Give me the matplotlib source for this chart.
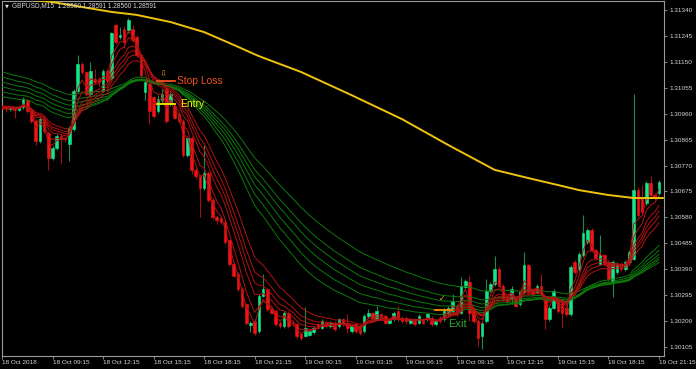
"""
plot.py

MetaTrader-style GBPUSD M15 chart: candles, GMMA ribbons (short EMAs in red,
long EMAs in green), a slow yellow average and the trade annotations.

Writes: out.png
"""

import matplotlib
matplotlib.use("Agg")
import matplotlib.pyplot as plt

# prices stored in points above 1.30000 (1 point = 0.00001)
BASE = 1.30000
PT = 1e-5

OPEN = [
    982, 978, 976, 980, 974, 983, 1010, 970, 933, 860,
    940, 890, 798, 835, 878, 870, 850, 905, 1044, 1143,
    1112, 1032, 1087, 1087, 1044, 1118, 1090, 1285, 1241, 1272,
    1266, 1272, 1241, 1174, 1040, 1069, 1020, 970, 1010, 1050,
    995, 989, 958, 933, 810, 872, 755, 730, 687, 742,
    644, 582, 576, 564, 496, 410, 373, 317, 262, 186,
    200, 163, 293, 317, 244, 237, 194, 182, 231, 190,
    188, 151, 145, 150, 160, 188, 176, 194, 182, 194,
    182, 206, 194, 164, 188, 182, 164, 219, 229, 207,
    225, 219, 194, 207, 237, 213, 213, 194, 206, 194,
    206, 206, 213, 188, 213, 207, 225, 237, 256, 231,
    324, 342, 243, 200, 145, 200, 311, 336, 392, 330,
    286, 286, 280, 262, 305, 404, 317, 305, 330, 280,
    207, 249, 274, 268, 249, 225, 416, 391, 441, 490,
    533, 459, 410, 441, 416, 342, 379, 410, 391, 416,
    428, 681, 650, 631, 705, 662, 668,
]
CLOSE = [
    978, 976, 980, 974, 983, 1013, 970, 933, 860, 940,
    897, 798, 835, 878, 870, 866, 909, 1044, 1143, 1112,
    1032, 1118, 1075, 1075, 1118, 1081, 1254, 1223, 1250, 1223,
    1303, 1229, 1174, 1100, 1075, 970, 952, 1013, 1032, 933,
    1032, 946, 933, 810, 872, 755, 730, 687, 742, 644,
    582, 570, 564, 490, 410, 367, 317, 256, 194, 194,
    157, 293, 317, 244, 231, 188, 182, 231, 182, 188,
    145, 139, 175, 162, 176, 176, 200, 182, 194, 170,
    206, 188, 176, 182, 164, 157, 219, 231, 207, 237,
    213, 194, 206, 231, 207, 200, 200, 206, 188, 219,
    194, 225, 188, 200, 200, 243, 249, 274, 225, 330,
    348, 231, 200, 139, 194, 311, 336, 392, 330, 280,
    274, 317, 256, 305, 404, 305, 299, 330, 299, 207,
    249, 311, 237, 231, 225, 397, 379, 447, 521, 533,
    459, 430, 441, 410, 354, 416, 410, 391, 416, 453,
    681, 588, 600, 705, 662, 650, 711,
]
HIGH = [
    986, 984, 986, 984, 990, 1020, 1015, 975, 940, 948,
    946, 897, 842, 885, 884, 876, 915, 1050, 1174, 1150,
    1118, 1149, 1125, 1094, 1125, 1124, 1260, 1291, 1278, 1280,
    1310, 1285, 1248, 1180, 1082, 1075, 1026, 1030, 1050, 1063,
    1040, 995, 964, 940, 880, 880, 762, 738, 847, 750,
    652, 590, 582, 570, 502, 418, 380, 325, 268, 200,
    206, 300, 373, 322, 250, 243, 200, 238, 237, 196,
    194, 157, 250, 168, 182, 194, 206, 200, 200, 200,
    212, 212, 225, 188, 194, 188, 225, 245, 235, 256,
    231, 225, 212, 237, 256, 219, 219, 212, 212, 225,
    212, 231, 219, 206, 219, 249, 256, 299, 262, 360,
    354, 365, 249, 206, 200, 354, 342, 440, 398, 336,
    292, 330, 286, 311, 453, 410, 323, 336, 373, 286,
    256, 318, 280, 274, 256, 404, 422, 453, 588, 540,
    540, 465, 514, 447, 422, 422, 416, 416, 422, 460,
    1032, 690, 700, 712, 730, 668, 718,
]
LOW = [
    972, 968, 970, 946, 970, 978, 962, 925, 847, 852,
    890, 755, 790, 828, 779, 855, 785, 898, 1038, 1105,
    1025, 1026, 1068, 1060, 1038, 1075, 1084, 1215, 1235, 1200,
    1255, 1222, 1168, 1092, 1010, 921, 945, 962, 1000, 925,
    988, 940, 925, 802, 802, 740, 722, 582, 680, 636,
    575, 555, 556, 482, 402, 360, 310, 248, 186, 160,
    150, 158, 288, 238, 225, 182, 176, 176, 176, 182,
    138, 130, 140, 144, 154, 170, 170, 176, 176, 163,
    176, 182, 157, 158, 158, 150, 158, 213, 200, 200,
    207, 188, 188, 200, 200, 194, 188, 188, 182, 188,
    188, 200, 182, 182, 194, 200, 219, 231, 219, 225,
    318, 200, 194, 108, 96, 194, 305, 330, 324, 274,
    268, 262, 250, 256, 299, 299, 292, 299, 292, 170,
    200, 243, 231, 175, 219, 219, 372, 385, 435, 484,
    453, 424, 404, 404, 348, 287, 373, 385, 385, 410,
    422, 580, 594, 625, 655, 644, 662,
]

# GMMA: short EMAs (red) and long EMAs (green), with their values one bar
# before the first visible candle
SHORT_PERIODS = [3, 5, 8, 10, 12, 15]
SHORT_START = [980, 981, 983, 985, 987, 990]
LONG_PERIODS = [30, 35, 40, 45, 50, 60]
LONG_START = [1026, 1044, 1063, 1081, 1100, 1118]

# slow yellow average, read at a handful of bars
SLOW_BARS = [0, 12, 19, 26, 32, 40, 48, 54, 61, 71, 83, 95, 106, 117, 125, 133, 137, 144, 150, 157]
SLOW_PTS = [1388, 1369, 1351, 1333, 1322, 1296, 1259, 1219, 1171, 1113,
            1028, 940, 845, 754, 724, 695, 680, 662, 651, 651]

TIME_TICKS = [0, 12, 24, 36, 48, 60, 72, 84, 96, 108, 120, 132, 144, 156]
TIME_LABELS = [
    "18 Oct 2018", "18 Oct 09:15", "18 Oct 12:15", "18 Oct 15:15",
    "18 Oct 18:15", "18 Oct 21:15", "19 Oct 00:15", "19 Oct 03:15",
    "19 Oct 06:15", "19 Oct 09:15", "19 Oct 12:15", "19 Oct 15:15",
    "19 Oct 18:15", "19 Oct 21:15",
]
PRICE_TICKS = [1.31340, 1.31245, 1.31150, 1.31055, 1.30960, 1.30865, 1.30770,
               1.30675, 1.30580, 1.30485, 1.30390, 1.30295, 1.30200, 1.30105]

TITLE = "GBPUSD,M15  1.28560 1.28591 1.28560 1.28591"

BULL_BODY = "#14e68c"
BULL_WICK = "#1c8c4a"
BEAR_BODY = "#f01414"
BEAR_WICK = "#a01010"
RED_EMA = "#b41212"
GREEN_EMA = "#0d7a0d"
SLOW_COLOR = "#f0c40c"
AXIS_COLOR = "#9a9a9a"
TEXT_COLOR = "#d8d8d8"
FONT = ["Liberation Sans", "DejaVu Sans"]


def price(p):
    return BASE + p * PT


def ema(values, period, start):
    a = 2.0 / (period + 1)
    out, prev = [], start
    for v in values:
        prev = a * v + (1 - a) * prev
        out.append(prev)
    return out


def draw_candles(ax):
    x = list(range(len(CLOSE)))
    for i in x:
        o, c, h, l = OPEN[i], CLOSE[i], HIGH[i], LOW[i]
        up = c >= o
        ax.vlines(i, price(l), price(h), color=BULL_WICK if up else BEAR_WICK,
                  linewidth=0.8, zorder=2)
        ax.bar(i, (c - o) * PT, bottom=price(o), width=0.62,
               color=BULL_BODY if up else BEAR_BODY,
               edgecolor=BULL_BODY if up else BEAR_BODY, linewidth=0.4, zorder=3)


def main():
    assert len(OPEN) == len(CLOSE) == len(HIGH) == len(LOW)
    plt.rcParams["font.family"] = FONT

    fig = plt.figure(figsize=(6.96, 3.69), dpi=100, facecolor="black")
    ax = fig.add_axes([2 / 696, 13 / 369, 662 / 696, 355 / 369], facecolor="black")

    draw_candles(ax)

    x = list(range(len(CLOSE)))
    for per, st in zip(LONG_PERIODS, LONG_START):
        ax.plot(x, [price(v) for v in ema(CLOSE, per, st)], color=GREEN_EMA,
                linewidth=0.7, zorder=4)
    for per, st in zip(SHORT_PERIODS, SHORT_START):
        ax.plot(x, [price(v) for v in ema(CLOSE, per, st)], color=RED_EMA,
                linewidth=0.7, zorder=4)
    ax.plot(SLOW_BARS, [price(v) for v in SLOW_PTS], color=SLOW_COLOR,
            linewidth=1.4, zorder=5, solid_capstyle="round", solid_joinstyle="round")

    # trade annotations
    ax.plot([36.9, 41.1], [price(1078)] * 2, color="#f0501e", linewidth=1.3, zorder=6)
    ax.text(41.6, price(1078), "Stop Loss", color="#f0501e", fontsize=7.4,
            va="center", ha="left", zorder=7)
    ax.text(38.3, price(1104), "\u21e9", color="#e8a000", fontsize=6,
            va="center", ha="center", family=["DejaVu Sans"], zorder=7)
    ax.plot([36.9, 41.1], [price(996)] * 2, color="#f0f000", linewidth=1.3, zorder=6)
    ax.text(42.3, price(996), "Entry", color="#f0f000", fontsize=7.4,
            va="center", ha="left", zorder=7)
    ax.plot([102.8, 106.9], [price(242)] * 2, color="#ff8c00", linewidth=1.3, zorder=6)
    ax.text(104.5, price(282), "\u2713", color="#e8c000", fontsize=5.5,
            va="center", ha="center", family=["DejaVu Sans"], zorder=7)
    ax.text(106.0, price(188), "Exit", color="#2eaa2e", fontsize=8,
            va="center", ha="left", zorder=7)

    ax.set_xlim(0.06, 157.2)
    ax.set_ylim(1.30072, 1.31373)

    ax.set_xticks(TIME_TICKS)
    ax.set_xticklabels(TIME_LABELS, ha="left", fontsize=4.6, color=TEXT_COLOR)
    ax.yaxis.tick_right()
    ax.set_yticks(PRICE_TICKS)
    ax.set_yticklabels([f"{p:.5f}" for p in PRICE_TICKS], fontsize=4.6, color=TEXT_COLOR)
    ax.tick_params(axis="x", length=2, width=0.6, color=AXIS_COLOR, pad=1)
    ax.tick_params(axis="y", length=2.5, width=0.6, color=AXIS_COLOR, pad=1.5)

    for side in ["left", "bottom", "right", "top"]:
        ax.spines[side].set_color(AXIS_COLOR)
        ax.spines[side].set_linewidth(0.8)

    fig.text(5 / 696, 1 - 6 / 369, "\u25bc", color=TEXT_COLOR, fontsize=3.6,
             va="center", ha="left", family=["DejaVu Sans"])
    fig.text(12 / 696, 1 - 6 / 369, TITLE, color=TEXT_COLOR, fontsize=4.7,
             va="center", ha="left")

    fig.savefig("out.png", dpi=100, facecolor="black")


if __name__ == "__main__":
    main()
